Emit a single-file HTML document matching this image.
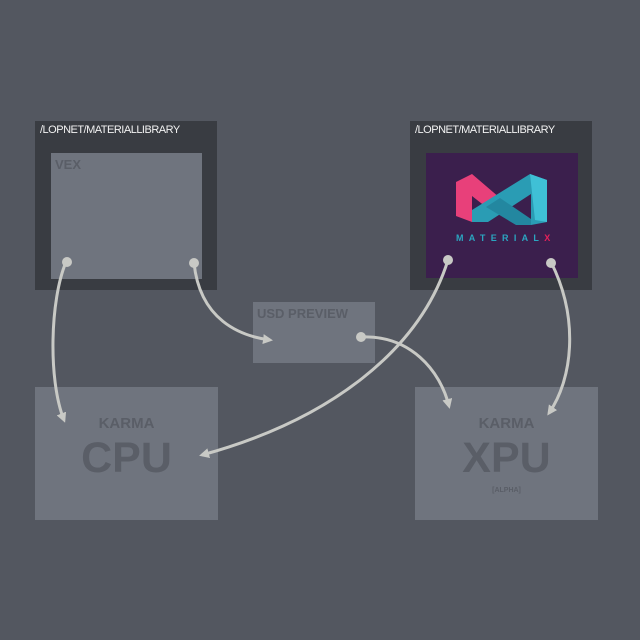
<!DOCTYPE html>
<html><head><meta charset="utf-8"><style>
body{margin:0;width:640px;height:640px;background:#535760;overflow:hidden;font-family:"Liberation Sans",sans-serif}
.a{position:absolute}
</style></head><body>
<div class="a" style="left:35px;top:121px;width:182px;height:169px;background:#393c42"></div>
<div class="a" style="left:40px;top:124px;color:#f2f2f2;font-size:11px;letter-spacing:-0.5px">/LOPNET/MATERIALLIBRARY</div>
<div class="a" style="left:51px;top:153px;width:151px;height:126px;background:#6f747e"></div>
<div class="a" style="left:55px;top:157px;color:#5a5e67;font-size:13px;font-weight:bold">VEX</div>

<div class="a" style="left:410px;top:121px;width:182px;height:169px;background:#393c42"></div>
<div class="a" style="left:415px;top:124px;color:#f2f2f2;font-size:11px;letter-spacing:-0.5px">/LOPNET/MATERIALLIBRARY</div>
<div class="a" style="left:426px;top:153px;width:152px;height:125px;background:#3b1f4d"></div>

<div class="a" style="left:253px;top:302px;width:122px;height:61px;background:#6f747e"></div>
<div class="a" style="left:257px;top:306px;color:#5a5e67;font-size:13px;font-weight:bold">USD PREVIEW</div>

<div class="a" style="left:35px;top:387px;width:183px;height:133px;background:#6f747e"></div>
<div class="a" style="left:35px;top:415px;width:183px;text-align:center;color:#5a5e67;font-size:15px;font-weight:bold">KARMA</div>
<div class="a" style="left:35px;top:434px;width:183px;text-align:center;color:#5a5e67;font-size:43px;font-weight:bold">CPU</div>

<div class="a" style="left:415px;top:387px;width:183px;height:133px;background:#6f747e"></div>
<div class="a" style="left:415px;top:415px;width:183px;text-align:center;color:#5a5e67;font-size:15px;font-weight:bold">KARMA</div>
<div class="a" style="left:415px;top:434px;width:183px;text-align:center;color:#5a5e67;font-size:43px;font-weight:bold">XPU</div>
<div class="a" style="left:415px;top:487px;width:183px;text-align:center;color:#5a5e67;font-size:7px;font-weight:bold">[ALPHA]</div>

<svg class="a" style="left:0;top:0" width="640" height="640">
<defs><marker id="m" markerWidth="10" markerHeight="10" refX="7" refY="5" orient="auto" markerUnits="userSpaceOnUse"><path d="M0,0 L10,5 L0,10 Z" fill="#c8c9c5"/></marker></defs>
<g fill="none" stroke="#c8c9c5" stroke-width="3">
<path d="M66,262 C50,300 48,380 64,420" marker-end="url(#m)"/>
<path d="M194,263 C200,320 240,336 270,340" marker-end="url(#m)"/>
<path d="M448,260 C420,350 330,420 202,455" marker-end="url(#m)"/>
<path d="M361,337 C410,335 440,370 449,406" marker-end="url(#m)"/>
<path d="M551,262 C580,320 572,380 549,413" marker-end="url(#m)"/>
</g>
<g fill="#c8c9c5"><circle cx="67" cy="262" r="5"/><circle cx="194" cy="263" r="5"/><circle cx="448" cy="260" r="5"/><circle cx="551" cy="263" r="5"/><circle cx="361" cy="337" r="5"/></g>
<polygon points="456,182 472,174 500,198 486,207 472,196 472,222 456,216" fill="#e8407a"/>
<polygon points="472,222 472,210 530,174 547,180 547,222 531,225 531,194 488,222" fill="#2a9cb4"/>
<polygon points="486,207 500,198 531,219 531,225 516,225" fill="#2387a0"/>
<polygon points="530,174 547,180 547,222 535,220" fill="#3fc0d6"/>
<text x="456" y="241" font-size="9" font-weight="bold" letter-spacing="5.3" fill="#2ba5c0" font-family="Liberation Sans, sans-serif">MATERIAL<tspan fill="#e8205a">X</tspan></text>
</svg>
</body></html>
